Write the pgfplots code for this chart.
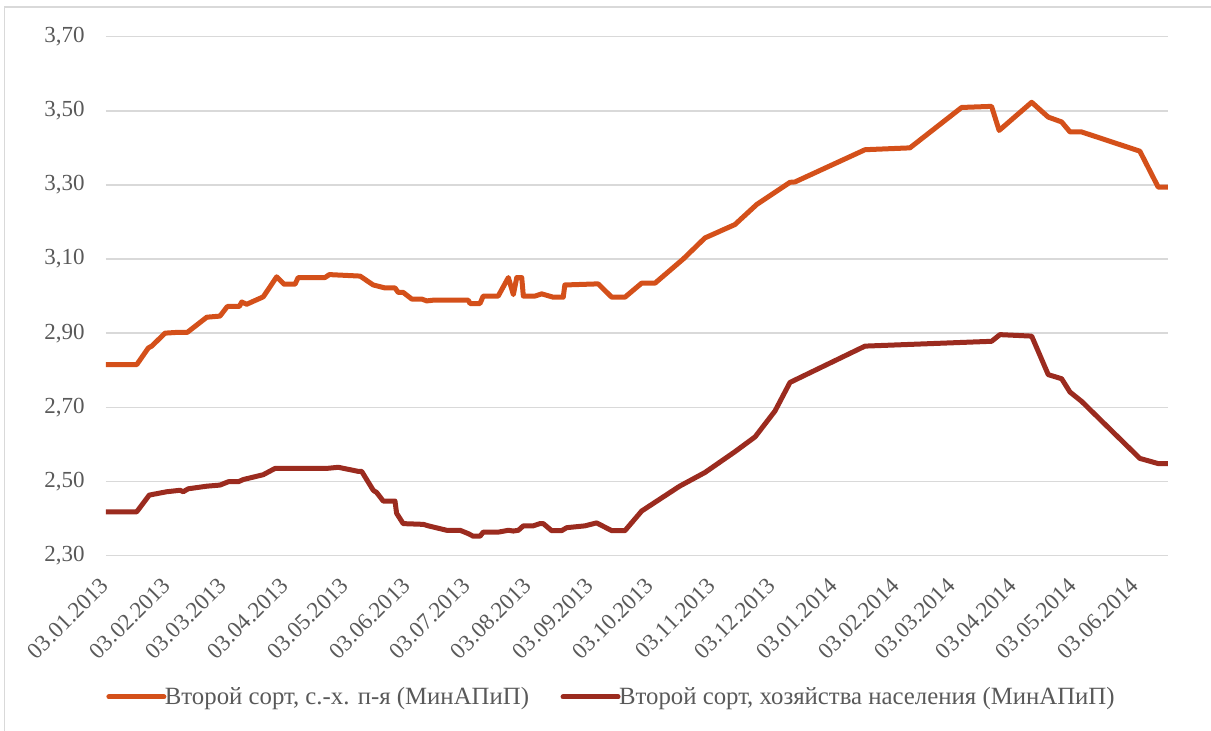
\documentclass[border=0pt]{standalone}
\usepackage{pgfplots}
\pgfplotsset{compat=1.18}
\usepackage{pgfplotstable}
\usepackage{fontspec}
\setmainfont{Liberation Serif}
\definecolor{sOne}{HTML}{D4501A}
\definecolor{sTwo}{HTML}{9B2B1F}
\definecolor{txt}{HTML}{595959}
\definecolor{gridc}{HTML}{D9D9D9}

\pgfplotstableread{
d v
0 2.815
15.4 2.815
21.2 2.860
22.9 2.865
29.6 2.900
35.4 2.902
40.7 2.902
50.5 2.943
57.1 2.946
60.8 2.972
66.8 2.972
68.0 2.984
70.5 2.978
78.8 2.998
85.5 3.052
89.2 3.032
94.7 3.032
96.3 3.050
109.7 3.050
111.9 3.058
127.3 3.054
133.9 3.030
139.8 3.022
144.8 3.022
146.4 3.010
148.9 3.010
153.2 2.992
158.2 2.992
160.7 2.987
164.0 2.989
181.5 2.989
182.4 2.980
187.4 2.980
189.0 3.000
196.5 3.000
201.6 3.050
204.1 3.004
205.8 3.050
208.3 3.050
209.1 3.000
214.9 3.000
218.3 3.006
224.1 2.997
229.1 2.997
229.9 3.030
246.6 3.033
253.4 2.997
260.0 2.997
268.4 3.035
275.1 3.035
289.2 3.100
300.1 3.157
315.1 3.193
326.0 3.247
342.7 3.307
345.2 3.308
380.3 3.395
402.8 3.400
428.7 3.509
443.7 3.512
447.5 3.447
463.8 3.523
472.1 3.483
478.8 3.470
483.0 3.443
488.8 3.443
518.0 3.391
527.2 3.294
532.1 3.294
}\serA

\pgfplotstableread{
d v
0 2.418
15.4 2.418
21.7 2.463
30.4 2.472
37.1 2.476
38.7 2.472
41.2 2.480
50.5 2.487
57.1 2.490
61.3 2.499
66.3 2.499
68.8 2.505
78.8 2.518
84.7 2.535
110.6 2.535
116.4 2.538
126.4 2.527
128.1 2.527
133.9 2.476
135.6 2.470
138.9 2.447
144.8 2.447
145.6 2.414
148.9 2.386
159.0 2.384
161.5 2.380
170.7 2.368
177.4 2.368
181.5 2.359
184.0 2.352
187.4 2.352
189.0 2.363
196.5 2.363
201.6 2.368
204.1 2.366
206.6 2.368
209.1 2.380
214.1 2.380
217.4 2.386
219.1 2.386
223.3 2.367
228.3 2.367
230.8 2.375
240.0 2.380
245.8 2.388
253.4 2.367
260.0 2.367
268.4 2.420
287.4 2.487
300.1 2.524
315.1 2.580
325.2 2.620
335.2 2.690
342.7 2.767
380.3 2.865
443.7 2.878
447.9 2.896
463.8 2.892
472.1 2.788
478.8 2.777
483.0 2.741
488.8 2.716
518.0 2.562
527.2 2.548
532.1 2.548
}\serB

\begin{document}
\begin{tikzpicture}
\path[use as bounding box] (-53pt,-87.75pt) rectangle (552.5pt,277.75pt);
\draw[gridc, line width=0.7pt] (-50.75pt,-87.75pt) -- (-50.75pt,274.25pt) -- (552.5pt,274.25pt);
\begin{axis}[
  at={(0,0)}, anchor=south west,
  scale only axis,
  width=531pt, height=259.4pt,
  xmin=0, xmax=532.1,
  ymin=2.3, ymax=3.7,
  ytick={2.3,2.5,2.7,2.9,3.1,3.3,3.5,3.7},
  xtick={0,31,59,90,120,151,181,212,243,273,304,334,365,396,424,455,485,516},
  xticklabels={03.01.2013,03.02.2013,03.03.2013,03.04.2013,03.05.2013,03.06.2013,03.07.2013,03.08.2013,03.09.2013,03.10.2013,03.11.2013,03.12.2013,03.01.2014,03.02.2014,03.03.2014,03.04.2014,03.05.2014,03.06.2014},
  axis line style={draw=none},
  major tick length=0pt,
  xmajorgrids=false,
  ymajorgrids=true,
  major grid style={draw=gridc, line width=0.75pt},
  /pgf/number format/.cd, fixed, fixed zerofill, precision=2, use comma, assume math mode=true,
  /pgfplots/.cd,
  yticklabel style={font=\fontsize{11.5pt}{13pt}\selectfont, text=txt, anchor=east, inner sep=0pt, xshift=-10.5pt},
  xticklabel style={font=\fontsize{11.5pt}{13pt}\selectfont, text=txt, xshift=-0.5pt, yshift=-13pt, rotate=45, anchor=east, inner sep=0pt},
  legend columns=2,
  legend style={at={(0,-0.2727)}, anchor=west, draw=none, fill=none, inner sep=0pt,
    font=\fontsize{12.4pt}{14pt}\selectfont, text=txt,
    nodes={inner sep=0.75pt},
    /tikz/every odd column/.append style={column sep=-1.5pt},
    /tikz/every even column/.append style={column sep=15pt}},
  legend image code/.code={\draw[#1, line cap=round] (0pt,0pt) -- (27.5pt,0pt);},
  legend cell align=left,
]
\addplot[sOne, line width=2.5pt, line join=round] table[x=d, y=v] {\serA};
\addlegendentry{Второй сорт, с.-х. п-я (МинАПиП)}
\addplot[sTwo, line width=2.5pt, line join=round] table[x=d, y=v] {\serB};
\addlegendentry{Второй сорт, хозяйства населения (МинАПиП)}
\end{axis}
\end{tikzpicture}
\end{document}
